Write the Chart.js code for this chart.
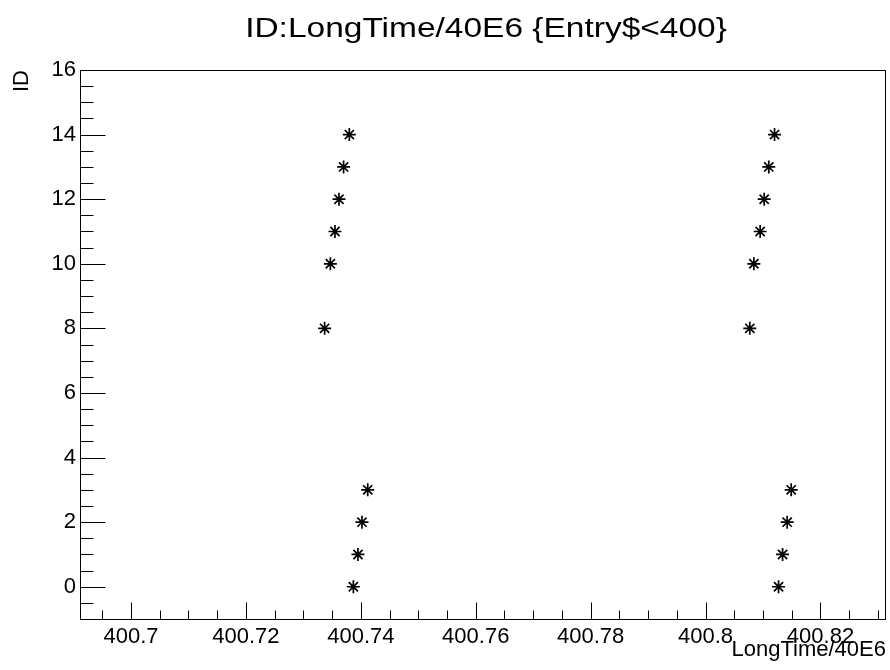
<!DOCTYPE html>
<html><head><meta charset="utf-8">
<script src="https://cdn.jsdelivr.net/npm/chart.js@4/dist/chart.umd.min.js"></script>
<style>html,body{margin:0;padding:0;background:#fff;} canvas{display:block;}</style>
</head><body>
<canvas id="c" width="890" height="670"></canvas>
<script>
// ---- data ----
const chartTitle = 'ID:LongTime/40E6 {Entry$<400}';
const xAxisTitle = 'LongTime/40E6';
const yAxisTitle = 'ID';
const ids = [14, 13, 12, 11, 10, 8, 3, 2, 1, 0];
const longTimeBurst1 = [400.7380, 400.7370, 400.7362, 400.7355, 400.7347, 400.7337, 400.7412, 400.7402, 400.7395, 400.7387];
const longTimeBurst2 = [400.8120, 400.8110, 400.8102, 400.8095, 400.8084, 400.8077, 400.8149, 400.8142, 400.8134, 400.8127];
const xTickValues = [400.70, 400.72, 400.74, 400.76, 400.78, 400.80, 400.82];
const xTickLabels = ['400.7', '400.72', '400.74', '400.76', '400.78', '400.8', '400.82'];
const yTickValues = [0, 2, 4, 6, 8, 10, 12, 14, 16];
const yTickLabels = ['0', '2', '4', '6', '8', '10', '12', '14', '16'];
const xRange = [400.6913, 400.8314];
const yRange = [-1.03, 16];
const xMinorStep = 0.005;
const yMinorStep = 0.5;

const points = ids.map((id, i) => ({x: longTimeBurst1[i], y: id}))
  .concat(ids.map((id, i) => ({x: longTimeBurst2[i], y: id})));

const FONT = '"Liberation Sans", Helvetica, Arial, sans-serif';

const rootFrame = {
  id: 'rootFrame',
  afterDraw(chart) {
    const {ctx, chartArea: a, scales: {x, y}} = chart;
    ctx.save();
    ctx.strokeStyle = '#000';
    ctx.lineWidth = 1;
    ctx.strokeRect(a.left - 0.5, a.top + 0.5, a.right - a.left, a.bottom - a.top - 1);
    const yb = a.bottom - 0.5, xl = a.left - 0.5;
    ctx.beginPath();
    // x ticks (major + minor), pointing into the frame
    const k0 = Math.ceil(xRange[0] / xMinorStep - 1e-6), k1 = Math.floor(xRange[1] / xMinorStep + 1e-6);
    for (let k = k0; k <= k1; k++) {
      const v = k * xMinorStep;
      const isMajor = xTickValues.some(t => Math.abs(t - v) < 1e-7);
      const px = Math.round(x.getPixelForValue(v)) + 0.5;
      ctx.moveTo(px, yb);
      ctx.lineTo(px, yb - (isMajor ? 17 : 9));
    }
    // y ticks
    const j0 = Math.ceil(yRange[0] / yMinorStep - 1e-6), j1 = Math.floor(yRange[1] / yMinorStep + 1e-6);
    for (let j = j0; j <= j1; j++) {
      const v = j * yMinorStep;
      const isMajor = yTickValues.includes(v);
      const py = Math.round(y.getPixelForValue(v)) + 0.5;
      ctx.moveTo(xl, py);
      ctx.lineTo(xl + (isMajor ? 25 : 13), py);
    }
    ctx.stroke();

    ctx.fillStyle = '#000';
    // title
    ctx.font = '27px ' + FONT;
    ctx.textAlign = 'center';
    ctx.textBaseline = 'alphabetic';
    ctx.save();
    ctx.translate(486, 37);
    ctx.scale(1.24, 1);
    ctx.fillText(chartTitle, 0, 0);
    ctx.restore();
    // x axis title
    ctx.font = '22px ' + FONT;
    ctx.textAlign = 'right';
    ctx.fillText(xAxisTitle, a.right, 656);
    // y axis title
    ctx.save();
    ctx.translate(28, a.top);
    ctx.rotate(-Math.PI / 2);
    ctx.textAlign = 'right';
    ctx.fillText(yAxisTitle, 0, 0);
    ctx.restore();
    ctx.restore();
  }
};

new Chart(document.getElementById('c'), {
  type: 'scatter',
  data: {
    datasets: [{
      data: points,
      pointStyle: 'star',
      pointRadius: 6.5,
      pointHoverRadius: 6.5,
      pointBorderWidth: 1.7,
      borderColor: '#000',
      backgroundColor: '#000'
    }]
  },
  options: {
    responsive: false,
    devicePixelRatio: 1,
    animation: false,
    layout: {autoPadding: false, padding: {top: 70, right: 4, left: 0, bottom: 0}},
    plugins: {legend: {display: false}, tooltip: {enabled: false}, title: {display: false}},
    scales: {
      x: {
        type: 'linear',
        min: xRange[0], max: xRange[1],
        grid: {display: false, drawTicks: false},
        border: {display: false},
        afterBuildTicks: s => { s.ticks = xTickValues.map(v => ({value: v})); },
        afterFit: s => { s.height = 50; },
        ticks: {
          color: '#000', padding: 4, maxRotation: 0, autoSkip: false,
          font: {family: FONT, size: 22},
          callback: (v, i) => xTickLabels[i]
        }
      },
      y: {
        type: 'linear',
        min: yRange[0], max: yRange[1],
        grid: {display: false, drawTicks: false},
        border: {display: false},
        afterBuildTicks: s => { s.ticks = yTickValues.map(v => ({value: v})); },
        afterFit: s => { s.width = 81; },
        ticks: {
          color: '#000', padding: 5, autoSkip: false,
          font: {family: FONT, size: 22},
          callback: (v, i) => yTickLabels[i]
        }
      }
    }
  },
  plugins: [rootFrame]
});
</script>
</body></html>
